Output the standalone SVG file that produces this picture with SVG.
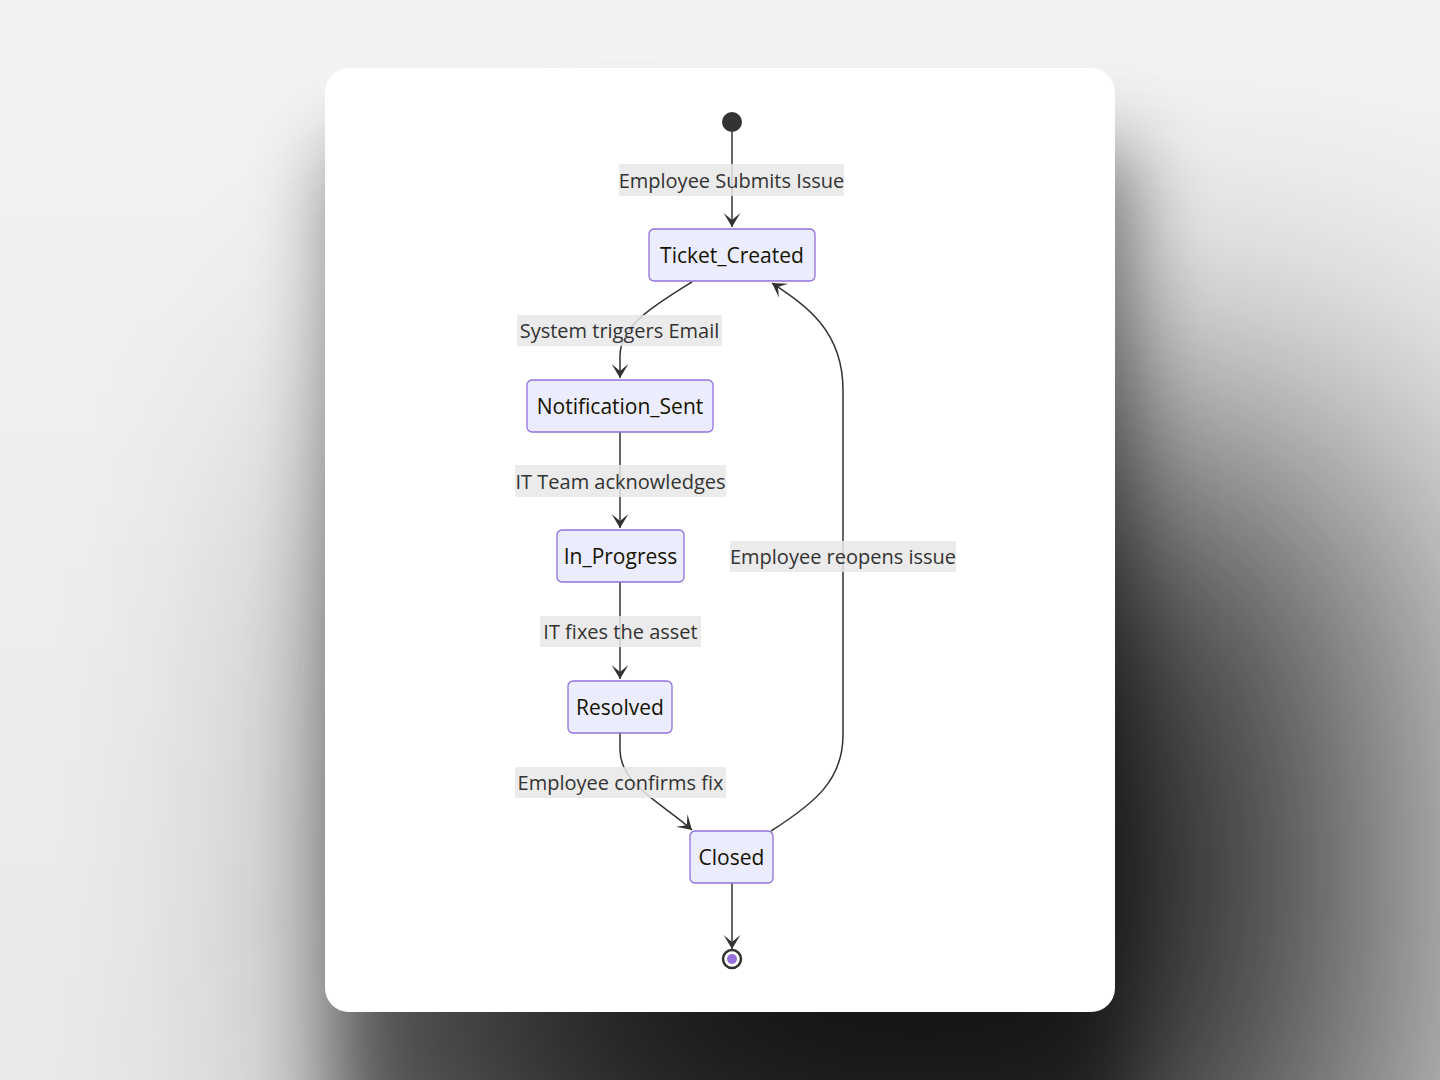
<svg xmlns="http://www.w3.org/2000/svg" width="1440" height="1080" viewBox="0 0 1440 1080">
<defs>
  <linearGradient id="bg" x1="0" y1="0" x2="0" y2="1">
    <stop offset="0" stop-color="#f3f3f3"/>
    <stop offset="1" stop-color="#e9e9e9"/>
  </linearGradient>
  <filter id="shA" x="-30%" y="-30%" width="160%" height="160%">
    <feGaussianBlur stdDeviation="40"/>
  </filter>
  <filter id="shB" x="-60%" y="-60%" width="220%" height="220%">
    <feGaussianBlur stdDeviation="180"/>
  </filter>
  <marker id="arrow" viewBox="0 0 20 14" refX="19" refY="7" markerWidth="28" markerHeight="19.6" markerUnits="userSpaceOnUse" orient="auto">
    <path d="M19,7 L9,13 L14,7 L9,1 Z" fill="#333"/>
  </marker>
  <style>
    .node rect { fill: #ECECFF; stroke: #9370DB; stroke-width: 1.3; }
    .node text { font-family: "Open Sans", "DejaVu Sans", sans-serif; font-size: 21px; fill: #131300; text-anchor: middle; dominant-baseline: central; }
    .edge { fill: none; stroke: #333; stroke-width: 1.5; }
    .lbl rect { fill: #e8e8e8; opacity: 0.85; }
    .lbl text { font-family: "Open Sans", "DejaVu Sans", sans-serif; font-size: 20px; fill: #333; text-anchor: middle; dominant-baseline: central; }
  </style>
</defs>
<rect x="0" y="0" width="1440" height="1080" fill="url(#bg)"/>
<rect x="335" y="150" width="795" height="1000" fill="#000" opacity="0.5" filter="url(#shA)"/>
<rect x="460" y="450" width="920" height="850" fill="#000" opacity="0.85" filter="url(#shB)"/>
<rect x="325" y="68" width="790" height="944" rx="24" fill="#ffffff"/>

<g id="connectors">
  <path class="edge" d="M732,132 L732,227" marker-end="url(#arrow)"/>
  <path class="edge" d="M692,282 C655,305 621,325 620,355 L620,378" marker-end="url(#arrow)"/>
  <path class="edge" d="M620,432 L620,528" marker-end="url(#arrow)"/>
  <path class="edge" d="M620,582 L620,679" marker-end="url(#arrow)"/>
  <path class="edge" d="M620,733 L620,750 C620,785 665,805 692,830" marker-end="url(#arrow)"/>
  <path class="edge" d="M771,831 C815,803 843,780 843,735 L843,390 C843,330 805,305 772,283" marker-end="url(#arrow)"/>
  <path class="edge" d="M732,883 L732,949" marker-end="url(#arrow)"/>
</g>

<g id="labels">
  <g class="lbl"><rect x="619" y="164" width="225" height="32"/><text x="731.5" y="180">Employee Submits Issue</text></g>
  <g class="lbl"><rect x="517" y="315" width="205" height="31"/><text x="619.5" y="330">System triggers Email</text></g>
  <g class="lbl"><rect x="515" y="465" width="211" height="32"/><text x="620.5" y="481">IT Team acknowledges</text></g>
  <g class="lbl"><rect x="540" y="616" width="161" height="31"/><text x="620.5" y="631">IT fixes the asset</text></g>
  <g class="lbl"><rect x="515" y="767" width="211" height="31"/><text x="620.5" y="782">Employee confirms fix</text></g>
  <g class="lbl"><rect x="730" y="541" width="226" height="31"/><text x="843" y="556">Employee reopens issue</text></g>
</g>

<g id="start"><circle cx="732" cy="122" r="10" fill="#333"/></g>
<g id="Ticket_Created" class="node"><rect x="649" y="229" width="166" height="52" rx="5"/><text x="732" y="255">Ticket_Created</text></g>
<g id="Notification_Sent" class="node"><rect x="527" y="380" width="186" height="52" rx="5"/><text x="620" y="406">Notification_Sent</text></g>
<g id="In_Progress" class="node"><rect x="557" y="530" width="127" height="52" rx="5"/><text x="620.5" y="556">In_Progress</text></g>
<g id="Resolved" class="node"><rect x="568" y="681" width="104" height="52" rx="5"/><text x="620" y="707">Resolved</text></g>
<g id="Closed" class="node"><rect x="690" y="831" width="83" height="52" rx="5"/><text x="731.5" y="857">Closed</text></g>
<g id="end"><circle cx="732" cy="959" r="9" fill="#fff" stroke="#333" stroke-width="2.5"/><circle cx="732" cy="959" r="5" fill="#9370DB"/></g>
</svg>
